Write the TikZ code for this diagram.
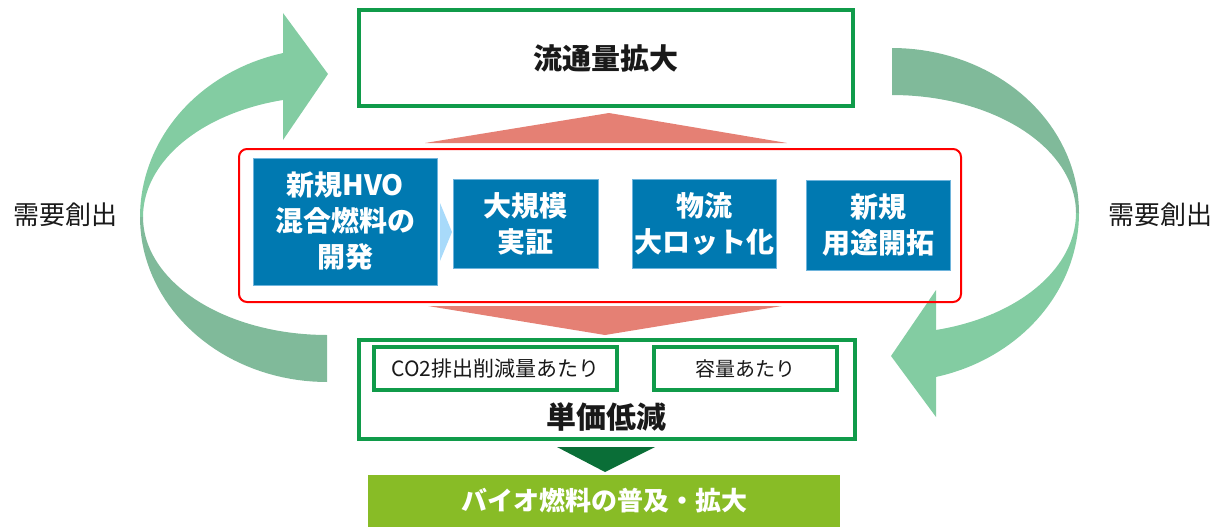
\documentclass[tikz,border=0pt]{standalone}
\usepackage{fontspec}
\setmainfont{Noto Sans CJK JP}
\definecolor{gborder}{RGB}{16,155,74}
\definecolor{rborder}{RGB}{255,0,0}
\definecolor{rtri}{RGB}{229,128,116}
\definecolor{bluebox}{RGB}{0,121,177}
\definecolor{bluechev}{RGB}{168,218,250}
\definecolor{dgtri}{RGB}{10,110,55}
\definecolor{gbar}{RGB}{136,188,38}
\definecolor{alight}{RGB}{131,204,162}
\definecolor{adark}{RGB}{128,186,154}
\definecolor{txt}{RGB}{25,25,25}
\newcommand\cyclebandshape{%
  \fill[alight] plot[domain=103.6:180,samples=40] ({327+187*cos(\x)},{217-168.7*sin(\x)})
     -- plot[domain=0:1,samples=40] ({327+184*cos(180-76.2*\x)},{217-120.5*sin(180-76.2*\x)}) -- cycle;
  \fill[alight] (283,13) -- (328,74) -- (283,140) -- cycle;
  \fill[adark] plot[domain=180:270,samples=40] ({327+187*cos(\x)},{217-165*sin(\x)})
     -- plot[domain=0:1,samples=40] ({327+184*cos(270-90*\x)},{217-118*sin(270-90*\x)}) -- cycle;
}
\begin{document}
\begin{tikzpicture}[x=1pt,y=-1pt,
  gbox/.style={draw=gborder,line width=4pt,fill=white,inner sep=0pt},
  bbox/.style={fill=bluebox,draw={rgb,255:red,110;green,180;blue,220},line width=0.8pt,text=white,align=center,inner sep=0pt,font=\bfseries\fontsize{28}{36}\selectfont},
  lbl/.style={text=txt,font=\fontsize{26}{30}\selectfont}]
\useasboundingbox (0,0) rectangle (1225,527);
% cycle arrows
\cyclebandshape
\begin{scope}[rotate around={180:(609.5,215)}]
\cyclebandshape
\end{scope}
% red triangles
\fill[rtri] (425,143) -- (609,113) -- (787,143) -- cycle;
\fill[rtri] (428,306) -- (782,306) -- (605,335) -- cycle;
% red frame
\node[draw=rborder,line width=2pt,rounded corners=8pt,minimum width=722pt,minimum height=153pt,inner sep=0pt] (frame) at (600,225.5) {};
% blue boxes
\node[bbox,minimum width=184pt,minimum height=127pt] (b1) at (345,221.5) {新規HVO\\混合燃料の\\開発};
\node[bbox,minimum width=145pt,minimum height=89pt] (b2) at (525.5,223.5) {大規模\\実証};
\node[bbox,minimum width=144pt,minimum height=89pt] (b3) at (704,223.5) {物流\\大ロット化};
\node[bbox,minimum width=144pt,minimum height=90pt] (b4) at (878,225) {新規\\用途開拓};
\fill[bluechev] (440,203) -- (452,232) -- (440,261) -- cycle;
% top box
\node[gbox,minimum width=494pt,minimum height=96pt,text=txt,font=\bfseries\fontsize{29}{34}\selectfont] (top) at (606,58) {流通量拡大};
% bottom box
\node[gbox,minimum width=496pt,minimum height=99pt] (bot) at (607,389.5) {};
\node[gbox,minimum width=243pt,minimum height=43pt,text=txt,font=\fontsize{21}{24}\selectfont] (c1) at (495.5,368.5) {CO2排出削減量あたり};
\node[gbox,minimum width=183pt,minimum height=43pt,text=txt,font=\fontsize{20}{24}\selectfont] (c2) at (745.5,368.5) {容量あたり};
\node[text=txt,font=\bfseries\fontsize{30}{34}\selectfont] (unit) at (606,417) {単価低減};
% dark green triangle
\fill[dgtri] (557,447) -- (655,447) -- (605,472) -- cycle;
% green bar
\node[fill=gbar,minimum width=472pt,minimum height=52pt,inner sep=0pt,text=white,font=\bfseries\fontsize{26}{30}\selectfont] (bar) at (604,501) {バイオ燃料の普及・拡大};
% labels
\node[lbl] (l1) at (65,215) {需要創出};
\node[lbl] (l2) at (1160,215) {需要創出};
\end{tikzpicture}
\end{document}
